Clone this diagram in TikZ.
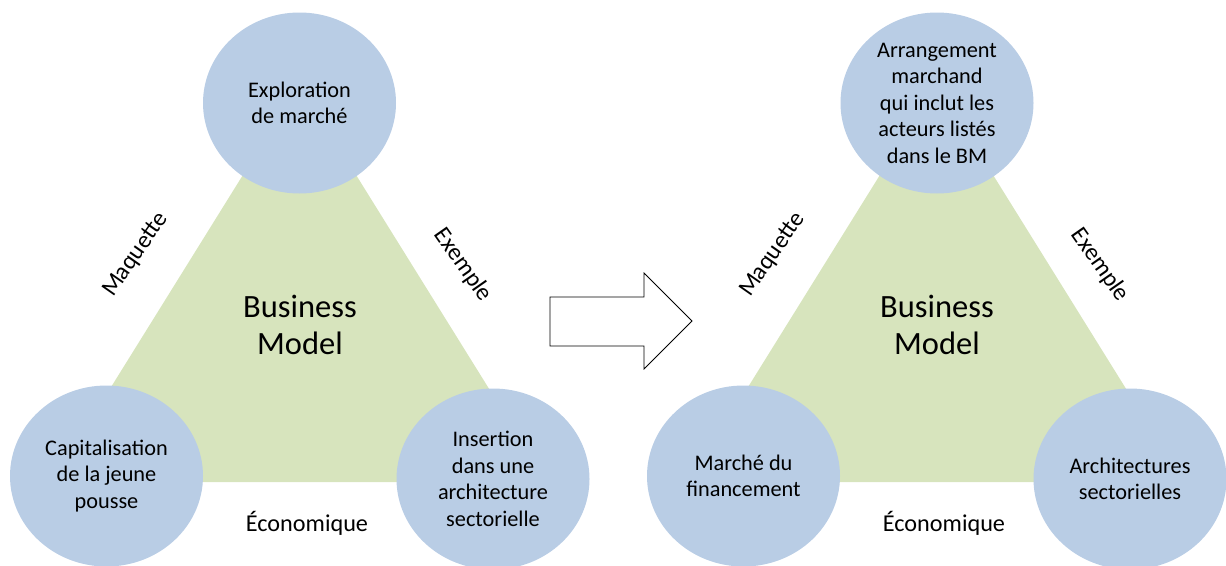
\documentclass[tikz,border=0pt]{standalone}
\usepackage{fontspec}
\setmainfont{Carlito}
\usetikzlibrary{shapes.geometric}
\definecolor{bleuclair}{HTML}{B9CDE5}
\definecolor{vertclair}{HTML}{D7E4BD}
\tikzset{
  bulle/.style={ellipse, fill=bleuclair, minimum width=193pt, minimum height=181pt,
    inner sep=0pt, align=center, font=\fontsize{22.3}{26.5}\selectfont},
  cote/.style={font=\fontsize{24.2}{28}\selectfont},
  centre/.style={align=center, font=\fontsize{32.5}{37.5}\selectfont},
}
\begin{document}
\begin{tikzpicture}[x=1pt, y=-1pt]
    \useasboundingbox (0,0) rectangle (1226,565);

    % 左边：三角形
    \coordinate (gA) at (299.5,84);
    \coordinate (gB) at (52,482);
    \coordinate (gC) at (547,482);
    \fill[vertclair] (gA) -- (gB) -- (gC) -- cycle;

    % 左边：三个圆
    \node[bulle] (gHaut) at (299.5,103) {Exploration\\de marché};
    \node[bulle] (gGauche) at (106.5,476) {Capitalisation\\de la jeune\\pousse};
    \node[bulle] (gDroite) at (493,479) {Insertion\\dans une\\architecture\\sectorielle};

    % 左边：文字
    \node[centre] (gBM) at (300,325) {Business\\Model};
    \node[cote, rotate=55] (gMaq) at (136,255) {Maquette};
    \node[cote, rotate=-55] (gEx) at (463,265) {Exemple};
    \node[cote] (gEco) at (307,523) {Économique};

    % 中间箭头
    \draw[fill=white, line width=0.8pt] (550,297) -- (644,297) -- (644,273) -- (692,321)
        -- (644,369) -- (644,346) -- (550,346) -- cycle;

    % 右边：三角形
    \coordinate (dA) at (936.5,84);
    \coordinate (dB) at (689,482);
    \coordinate (dC) at (1184,482);
    \fill[vertclair] (dA) -- (dB) -- (dC) -- cycle;

    % 右边：三个圆
    \node[bulle] (dHaut) at (937,103) {Arrangement\\marchand\\qui inclut les\\acteurs listés\\dans le BM};
    \node[bulle] (dGauche) at (743.5,476) {Marché du\\financement};
    \node[bulle] (dDroite) at (1130,479) {Architectures\\sectorielles};

    % 右边：文字
    \node[centre] (dBM) at (937,325) {Business\\Model};
    \node[cote, rotate=55] (dMaq) at (773,255) {Maquette};
    \node[cote, rotate=-55] (dEx) at (1100,265) {Exemple};
    \node[cote] (dEco) at (944,523) {Économique};
\end{tikzpicture}
\end{document}
